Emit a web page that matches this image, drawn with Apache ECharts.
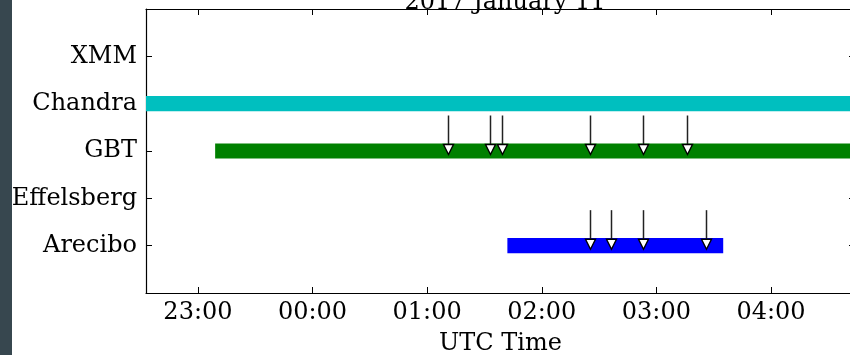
<!DOCTYPE html>
<html>
<head>
<meta charset="utf-8">
<script src="https://cdn.jsdelivr.net/npm/echarts@6/dist/echarts.min.js"></script>
<style>
  html, body { margin: 0; padding: 0; background: #fff; }
  #wrap { position: relative; width: 850px; height: 355px; overflow: hidden; }
  #strip { position: absolute; left: 0; top: 0; width: 12px; height: 355px; background: #37474f; z-index: 2; }
  #chart { position: absolute; left: 0; top: 0; width: 850px; height: 355px; }
</style>
</head>
<body>
<div id="wrap">
  <div id="strip"></div>
  <div id="chart"></div>
</div>
<script>
// rows from bottom to top
const instruments = ["Arecibo", "Effelsberg", "GBT", "Chandra", "XMM"];

// observing windows (UTC), 2017 Jan 10/11
const obsNames = ["Chandra", "GBT", "Arecibo"];
const obsStart = ["22:00", "23:09", "01:42"];
const obsEnd = ["05:30", "05:30", "03:35"];
const obsColors = ["#00bfbf", "#008000", "#0000ff"];

// burst arrival times (UTC)
const gbtBursts = ["01:11", "01:33", "01:39", "02:25", "02:53", "03:16"];
const areciboBursts = ["02:25", "02:36", "02:53", "03:26"];

// x tick labels
const tickLabels = ["23:00", "00:00", "01:00", "02:00", "03:00", "04:00"];

// minutes from 00:00 Jan 11; times after noon belong to Jan 10
function toMin(s) {
  let p = s.split(":");
  let m = parseInt(p[0]) * 60 + parseInt(p[1]);
  if (m > 12 * 60) m -= 24 * 60;
  return m;
}
function fmt(v) {
  let m = ((v % 1440) + 1440) % 1440;
  let h = Math.floor(m / 60), mm = m % 60;
  return (h < 10 ? "0" : "") + h + ":" + (mm < 10 ? "0" : "") + mm;
}

const xMin = -87.2;
const xMax = 284;
const tickValues = tickLabels.map(toMin);

let barData = obsNames.map(function (n, i) {
  return [instruments.indexOf(n) + 1, toMin(obsStart[i]), toMin(obsEnd[i]), i];
});
let arrowData = [];
gbtBursts.forEach(function (t) { arrowData.push([toMin(t), instruments.indexOf("GBT") + 1]); });
areciboBursts.forEach(function (t) { arrowData.push([toMin(t), instruments.indexOf("Arecibo") + 1]); });

const font = "DejaVu Serif";
let chart = echarts.init(document.getElementById("chart"));

let xCommon = {
  type: "value",
  min: xMin,
  max: xMax,
  axisLine: { show: true, onZero: false, lineStyle: { color: "#000", width: 1.2 } },
  axisTick: { show: true, inside: true, length: 6, customValues: tickValues, lineStyle: { color: "#000" } },
  splitLine: { show: false },
};
let yCommon = {
  type: "value",
  min: 0,
  max: 6,
  interval: 1,
  axisLine: { show: true, onZero: false, lineStyle: { color: "#000", width: 1.2 } },
  axisTick: { show: true, inside: true, length: 6, lineStyle: { color: "#000" } },
  splitLine: { show: false },
};

chart.setOption({
  animation: false,
  backgroundColor: "#fff",
  title: {
    text: "2017 January 11",
    left: 500,
    top: -14,
    textAlign: "center",
    textStyle: { fontFamily: font, fontSize: 24, fontWeight: "normal", color: "#000" },
  },
  grid: { left: 146, top: 9, width: 709, height: 284, outerBoundsMode: "none", containLabel: false },
  xAxis: [
    Object.assign({}, xCommon, {
      position: "bottom",
      name: "UTC Time",
      nameLocation: "middle",
      nameGap: 39,
      nameTextStyle: { fontFamily: font, fontSize: 24, color: "#000" },
      axisLabel: {
        show: true,
        customValues: tickValues,
        formatter: fmt,
        fontFamily: font,
        fontSize: 24,
        color: "#000",
        margin: 8,
      },
    }),
    Object.assign({}, xCommon, { position: "top", axisLabel: { show: false } }),
  ],
  yAxis: [
    Object.assign({}, yCommon, {
      position: "left",
      axisLabel: {
        formatter: function (v) { return instruments[v - 1] || ""; },
        fontFamily: font,
        fontSize: 24,
        color: "#000",
        margin: 9,
      },
    }),
    Object.assign({}, yCommon, { position: "right", axisLabel: { show: false } }),
  ],
  series: [
    {
      type: "custom",
      name: "windows",
      data: barData,
      renderItem: function (params, api) {
        let row = api.value(0);
        let a = api.coord([api.value(1), row + 0.16]);
        let b = api.coord([api.value(2), row - 0.16]);
        let shape = echarts.graphic.clipRectByRect(
          { x: a[0], y: a[1], width: b[0] - a[0], height: b[1] - a[1] },
          { x: params.coordSys.x, y: params.coordSys.y, width: params.coordSys.width, height: params.coordSys.height }
        );
        return shape && {
          type: "rect",
          shape: shape,
          style: { fill: obsColors[api.value(3)] },
        };
      },
    },
    {
      type: "custom",
      name: "bursts",
      data: arrowData,
      z: 5,
      renderItem: function (params, api) {
        let row = api.value(1);
        let top = api.coord([api.value(0), row + 0.75]);
        let tip = api.coord([api.value(0), row - 0.075]);
        let x = Math.round(tip[0]) + 0.5;
        return {
          type: "group",
          children: [
            {
              type: "line",
              shape: { x1: x, y1: top[1], x2: x, y2: tip[1] - 9 },
              style: { stroke: "#222", lineWidth: 1.5 },
            },
            {
              type: "polygon",
              shape: { points: [[x - 5, tip[1] - 10], [x + 5, tip[1] - 10], [x, tip[1]]] },
              style: { fill: "#fff", stroke: "#000", lineWidth: 1.4 },
            },
          ],
        };
      },
    },
  ],
});
</script>
</body>
</html>
